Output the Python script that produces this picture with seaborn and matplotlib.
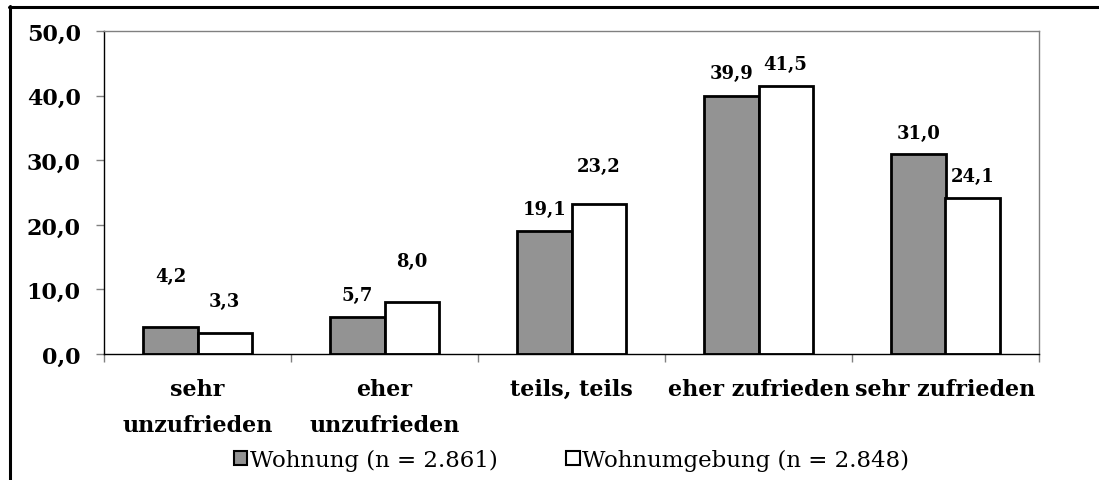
import matplotlib
matplotlib.use("Agg")
import matplotlib.pyplot as plt
import seaborn as sns
import pandas as pd
from matplotlib.patches import Patch
from matplotlib.lines import Line2D

categories = ["sehr\nunzufrieden", "eher\nunzufrieden", "teils, teils", "eher zufrieden", "sehr zufrieden"]
series_names = ["Wohnung (n = 2.861)", "Wohnumgebung (n = 2.848)"]
wohnung = [4.2, 5.7, 19.1, 39.9, 31.0]
wohnumgebung = [3.3, 8.0, 23.2, 41.5, 24.1]
y_ticks = [0, 10, 20, 30, 40, 50]

# label offsets above bar tops (points) - layout only
off_w = [36.7, 15.8, 15.8, 16.6, 15.1]
off_u = [23.0, 29.5, 27.4, 15.8, 15.8]

sns.set_theme(style="white")
plt.rcParams["font.family"] = ["DejaVu Serif"]

df = pd.DataFrame({
    "cat": categories * 2,
    "val": wohnung + wohnumgebung,
    "series": [series_names[0]] * 5 + [series_names[1]] * 5,
})

fig = plt.figure(figsize=(10.99, 4.81), dpi=100)
ax = fig.add_axes([104 / 1099, 1 - 355 / 481, (1039 - 104) / 1099, (355 - 32) / 481])

colors = ["#939393", "#ffffff"]
sns.barplot(data=df, x="cat", y="val", hue="series", order=categories,
            hue_order=series_names, palette=colors, width=0.58,
            edgecolor="black", linewidth=2.0, saturation=1, ax=ax, legend=False)

ax.set_ylim(0, 50)
ax.set_xlim(-0.5, 4.5)
ax.set_yticks(y_ticks)
ax.set_yticklabels([f"{v:.1f}".replace(".", ",") for v in y_ticks],
                   fontsize=16, fontweight="bold", color="black")
ax.tick_params(axis="y", direction="out", length=5.8, width=1, color="#808080",
               pad=11, left=True)
ax.set_xticks(range(5))
ax.set_xticklabels(categories, fontsize=16, fontweight="bold", color="black")
for lab in ax.get_xticklabels():
    lab.set_linespacing(1.85)
ax.set_xticks([i - 0.5 for i in range(6)], minor=True)
ax.tick_params(axis="x", which="major", length=0, pad=17)
ax.tick_params(axis="x", which="minor", direction="out", length=5.8, width=1,
               color="#808080", bottom=True)
ax.set_xlabel("")
ax.set_ylabel("")

for side in ["top", "right"]:
    ax.spines[side].set_visible(True)
    ax.spines[side].set_color("#808080")
    ax.spines[side].set_linewidth(1)
for side in ["left", "bottom"]:
    ax.spines[side].set_color("black")
    ax.spines[side].set_linewidth(1)

# data labels
for cont, vals, offs in zip(ax.containers, [wohnung, wohnumgebung], [off_w, off_u]):
    for bar, v, o in zip(cont, vals, offs):
        ax.annotate(f"{v:.1f}".replace(".", ","),
                    xy=(bar.get_x() + bar.get_width() / 2, bar.get_height()),
                    xytext=(0, o), textcoords="offset points",
                    ha="center", va="center", fontsize=13, fontweight="bold",
                    color="black")

handles = [Patch(facecolor=c, edgecolor="black", linewidth=1.5) for c in colors]
fig.legend(handles, series_names, loc="center", ncol=2,
           bbox_to_anchor=(571.5 / 1099, 1 - 461 / 481), frameon=False,
           fontsize=16.5, handlelength=0.6, handleheight=0.6,
           handletextpad=0.1, columnspacing=3.0, borderaxespad=0,
           labelcolor="black")

# outer frame (top and left)
fig.add_artist(Line2D([9 / 1099, 1.0], [1 - 8 / 481, 1 - 8 / 481],
                      transform=fig.transFigure, color="black", linewidth=2.2))
fig.add_artist(Line2D([10 / 1099, 10 / 1099], [0, 1 - 7 / 481],
                      transform=fig.transFigure, color="black", linewidth=2.2))

fig.savefig("out.png", dpi=100)
